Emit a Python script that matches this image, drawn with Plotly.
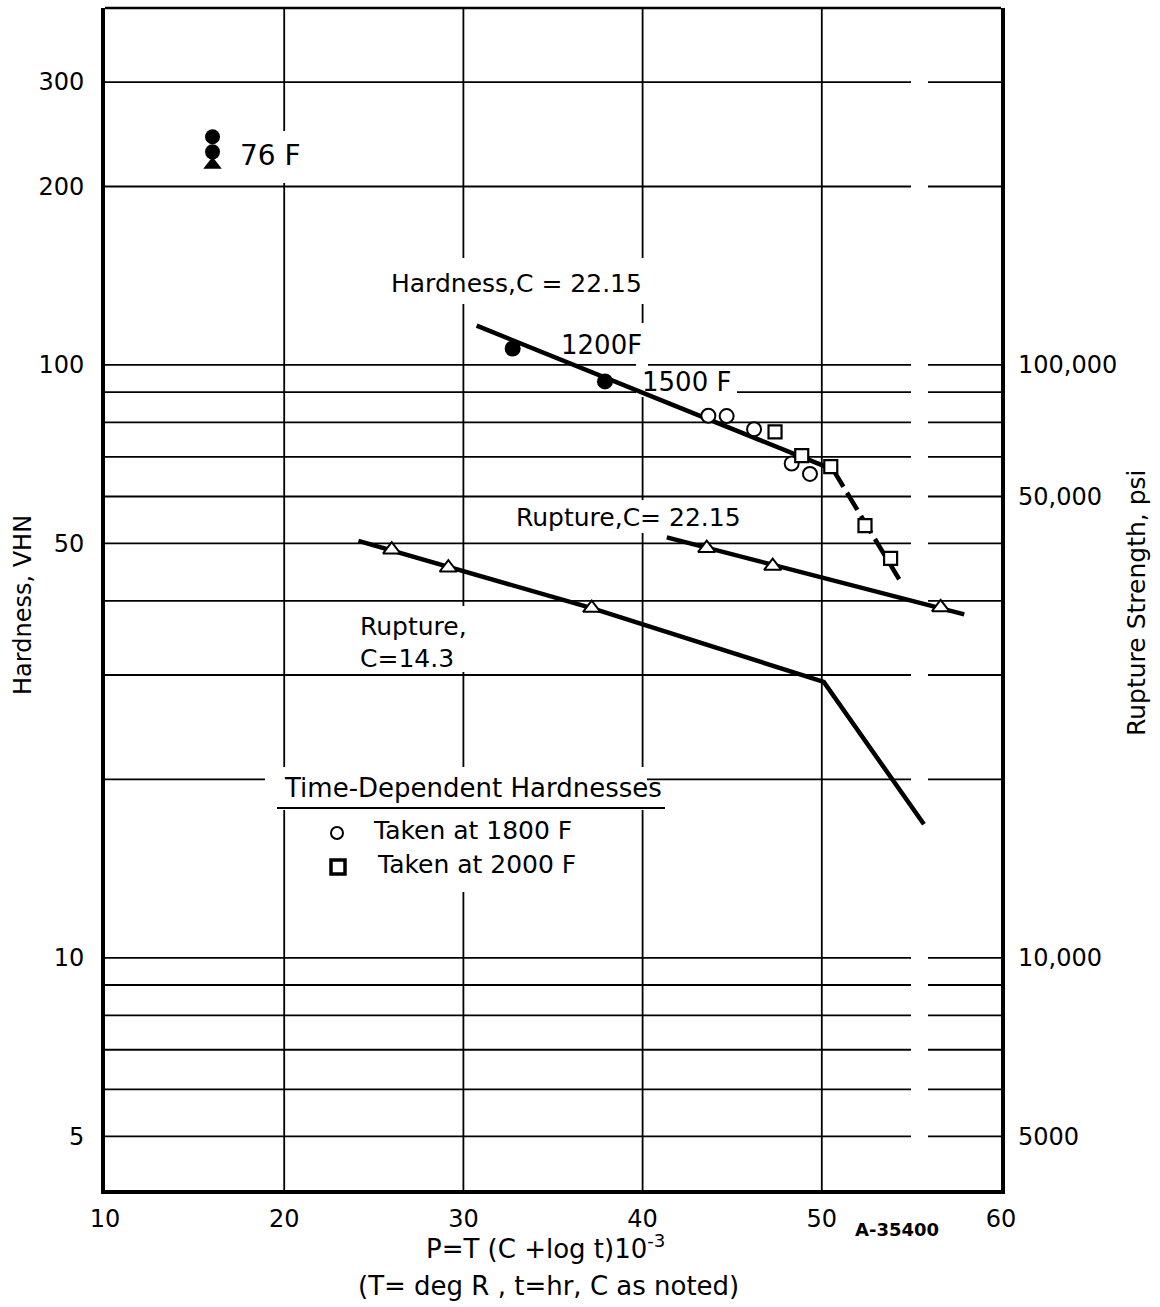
import math
import plotly.graph_objects as go

# ---------------- data ----------------
x_ticks = [10, 20, 30, 40, 50, 60]
x_grid_vals = [20, 30, 40, 50]
hard_grid_vals = [5, 6, 7, 8, 9, 10, 20, 30, 40, 50, 60, 70, 80, 90, 100, 200, 300]
hard_tick_vals = [5, 10, 50, 100, 200, 300]
hard_tick_text = ["5", "10", "50", "100", "200", "300"]
rupt_tick_vals = [100, 60, 10, 5]
rupt_tick_text = ["100,000", "50,000", "10,000", "5000"]

t76_circ_x = [16.0, 16.0]
t76_circ_y = [242.6, 228.8]
t76_tri_x = [16.0]
t76_tri_y = [217.6]

hard_fill_x = [32.75, 37.90]          # 1200 F, 1500 F
hard_fill_y = [106.6, 93.8]

hard_line_x = [30.74, 50.63]
hard_line_y = [116.5, 66.6]
hard_dash_x = [50.63, 54.36]
hard_dash_y = [66.6, 43.3]

h1800_x = [43.67, 44.69, 46.22, 48.32, 49.34]
h1800_y = [82.1, 82.0, 77.9, 68.2, 65.5]
h2000_x = [47.39, 48.88, 50.50, 52.41, 53.84]
h2000_y = [77.1, 70.3, 67.4, 53.6, 47.2]

rup22_line_x = [41.35, 57.95]
rup22_line_y = [51.2, 37.96]
rup22_pts_x = [43.58, 47.26, 56.63]
rup22_pts_y = [49.1, 45.8, 39.0]

rup14_line_x = [24.14, 37.16, 50.11, 55.70]
rup14_line_y = [50.5, 38.9, 29.2, 16.8]
rup14_pts_x = [26.0, 29.16, 37.16]
rup14_pts_y = [48.8, 45.5, 38.9]

# ---------------- layout helpers ----------------
W, H = 1160, 1307
L, R, T, B = 105, 159, 8, 117
PW, PH = W - L - R, H - T - B
FONT = "DejaVu Sans"
yrange = [math.log10(4.06), math.log10(400)]


def pxx(p):
    return (p - L) / PW


def pxy(p):
    return (H - B - p) / PH


def yfrac(v):
    return (math.log10(v) - yrange[0]) / (yrange[1] - yrange[0])


fig = go.Figure()

LINE_W = 4.5
fig.add_trace(go.Scatter(x=hard_line_x, y=hard_line_y, mode="lines",
                         line=dict(color="black", width=LINE_W)))
fig.add_trace(go.Scatter(x=hard_dash_x, y=hard_dash_y, mode="lines",
                         line=dict(color="black", width=LINE_W, dash="20px,7px")))
fig.add_trace(go.Scatter(x=rup22_line_x, y=rup22_line_y, mode="lines", yaxis="y2",
                         line=dict(color="black", width=LINE_W)))
fig.add_trace(go.Scatter(x=rup14_line_x, y=rup14_line_y, mode="lines", yaxis="y2",
                         line=dict(color="black", width=LINE_W)))

fig.add_trace(go.Scatter(x=t76_circ_x, y=t76_circ_y, mode="markers",
                         marker=dict(symbol="circle", size=15, color="black")))
fig.add_trace(go.Scatter(x=t76_tri_x, y=t76_tri_y, mode="markers",
                         marker=dict(symbol="triangle-up", size=16, color="black")))
fig.add_trace(go.Scatter(x=hard_fill_x, y=hard_fill_y, mode="markers",
                         marker=dict(symbol="circle", size=16, color="black")))
fig.add_trace(go.Scatter(x=h1800_x, y=h1800_y, mode="markers",
                         marker=dict(symbol="circle", size=14, color="white",
                                     line=dict(color="black", width=2))))
fig.add_trace(go.Scatter(x=h2000_x, y=h2000_y, mode="markers",
                         marker=dict(symbol="square", size=13, color="white",
                                     line=dict(color="black", width=2.2))))
fig.add_trace(go.Scatter(x=rup22_pts_x, y=rup22_pts_y, mode="markers", yaxis="y2",
                         marker=dict(symbol="triangle-up", size=15, color="white",
                                     line=dict(color="black", width=2))))
fig.add_trace(go.Scatter(x=rup14_pts_x, y=rup14_pts_y, mode="markers", yaxis="y2",
                         marker=dict(symbol="triangle-up", size=15, color="white",
                                     line=dict(color="black", width=2))))

fig.update_layout(
    width=W, height=H,
    margin=dict(l=L, r=R, t=T, b=B, pad=0),
    paper_bgcolor="white", plot_bgcolor="white",
    showlegend=False,
    font=dict(family=FONT, color="black", size=24),
    xaxis=dict(range=[10, 60], tickvals=x_ticks, ticktext=[str(v) for v in x_ticks],
               showgrid=False,
               showline=True, linecolor="black", linewidth=4, mirror=False,
               ticks="", ticklabelstandoff=4, zeroline=False,
               tickfont=dict(size=24, family=FONT)),
    yaxis=dict(type="log", range=yrange, tickvals=hard_tick_vals, ticktext=hard_tick_text,
               showgrid=False,
               showline=True, linecolor="black", linewidth=4, mirror=True,
               ticks="", ticklabelstandoff=12, zeroline=False,
               tickfont=dict(size=24, family=FONT)),
    yaxis2=dict(type="log", range=yrange, overlaying="y", side="right",
                tickvals=rupt_tick_vals, ticktext=rupt_tick_text,
                showgrid=False, showline=False, ticks="", ticklabelstandoff=16,
                zeroline=False, tickfont=dict(size=24, family=FONT)),
)

shapes = []
GRID_W = 1.8
# grid lines (as shapes so that label gaps can be cut out)
for gx in x_grid_vals:
    shapes.append(dict(type="line", xref="x", yref="paper", x0=gx, x1=gx, y0=0, y1=1,
                       line=dict(color="black", width=GRID_W), layer="below"))
for gy in hard_grid_vals:
    shapes.append(dict(type="line", xref="paper", yref="paper", x0=0, x1=1,
                       y0=yfrac(gy), y1=yfrac(gy),
                       line=dict(color="black", width=GRID_W), layer="below"))

# white gaps in the grid around lettering
gaps = [
    (911, 928, 60, 1150),
    (230, 305, 131, 183),
    (383, 650, 258, 304),
    (636, 648, 323, 397),
    (648, 737, 372, 397),
    (507, 748, 500, 533),
    (355, 482, 606, 672),
    (265, 647, 767, 810),
    (290, 600, 810, 892),
]
for x0, x1, y0, y1 in gaps:
    shapes.append(dict(type="rect", xref="paper", yref="paper",
                       x0=pxx(x0), x1=pxx(x1), y0=pxy(y1), y1=pxy(y0),
                       fillcolor="white", line=dict(width=0), layer="below"))
# top frame
shapes.append(dict(type="line", xref="paper", yref="paper", x0=0, x1=1, y0=1, y1=1,
                   line=dict(color="black", width=2.5)))
# legend underline and symbols
shapes.append(dict(type="line", xref="paper", yref="paper", x0=pxx(277), x1=pxx(665),
                   y0=pxy(808), y1=pxy(808), line=dict(color="black", width=2)))
shapes.append(dict(type="circle", xref="paper", yref="paper", x0=pxx(331), x1=pxx(343),
                   y0=pxy(839), y1=pxy(827), line=dict(color="black", width=2),
                   fillcolor="white"))
shapes.append(dict(type="rect", xref="paper", yref="paper", x0=pxx(331), x1=pxx(345),
                   y0=pxy(874), y1=pxy(860), line=dict(color="black", width=3.5),
                   fillcolor="white"))
fig.update_layout(shapes=shapes)


def ann(text, x, y, size=25, xanchor="center", angle=0, bold=False):
    fig.add_annotation(text=("<b>%s</b>" % text) if bold else text,
                       xref="paper", yref="paper", x=pxx(x), y=pxy(y),
                       xanchor=xanchor, yanchor="middle", showarrow=False,
                       textangle=angle, font=dict(family=FONT, size=size, color="black"))


ann("76 F", 270, 156, size=28)
ann("Hardness,C = 22.15", 516, 283, size=25)
ann("1200F", 601, 345, size=26)
ann("1500 F", 686, 382, size=26)
ann("Rupture,C= 22.15", 628, 517, size=25)
ann("Rupture,", 358, 626, size=25, xanchor="left")
ann("C=14.3", 358, 658, size=25, xanchor="left")
ann("Time-Dependent Hardnesses", 473, 788, size=26)
ann("Taken at 1800 F", 371, 830, size=25, xanchor="left")
ann("Taken at 2000 F", 375, 864, size=25, xanchor="left")
ann("A-35400", 897, 1229, size=18, bold=True)
ann("P=T (C +log t)10<sup>-3</sup>", 545, 1247, size=26)
ann("(T= deg R , t=hr, C as noted)", 548, 1286, size=26)
ann("Hardness, VHN", 23, 605, size=24, angle=-90)
ann("Rupture Strength, psi", 1137, 603, size=25, angle=-90)

fig.write_html("out.html")
